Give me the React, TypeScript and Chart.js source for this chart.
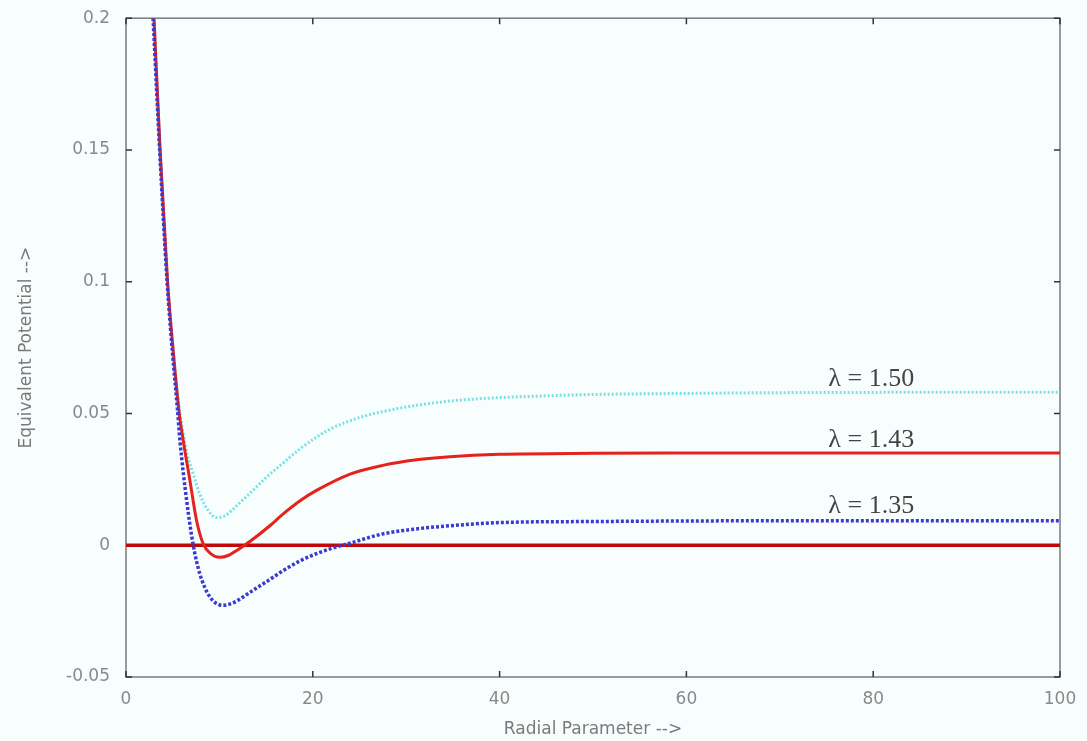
import React, { useEffect, useRef } from "react";
import { Chart, registerables } from "chart.js";
Chart.register(...registerables);

// ---- data ----
const cyanX = [3.0, 3.65, 4.45, 5.05, 5.6, 6.0, 6.6, 7.2, 7.9, 8.8, 9.7, 10.6, 11.5, 12.5, 13.3, 14.35, 15.4, 16.5, 18.6, 20.4, 21.8, 25.05, 29.3, 33.6, 37.9, 45, 50, 60, 70, 80, 90, 100];
const cyanY = [0.2, 0.15, 0.1, 0.074, 0.055, 0.045, 0.034, 0.027, 0.0194, 0.0132, 0.0105, 0.0112, 0.0138, 0.0172, 0.0198, 0.0235, 0.027, 0.0302, 0.0365, 0.041, 0.044, 0.0485, 0.052, 0.0543, 0.0556, 0.0567, 0.0572, 0.0576, 0.0579, 0.058, 0.0581, 0.0581];

const redX = [3.0, 3.65, 4.45, 5.1, 5.7, 6.14, 6.85, 7.56, 8.27, 9.0, 10.06, 11.0, 11.85, 12.7, 13.3, 15.4, 16.8, 18.6, 20.4, 24.0, 27.5, 31.1, 34.7, 40, 50, 60, 70, 80, 90, 100];
const redY = [0.2, 0.15, 0.1, 0.072, 0.05, 0.0395, 0.0244, 0.0093, 0.0005, -0.003, -0.0046, -0.0038, -0.002, 0, 0.0015, 0.0074, 0.0118, 0.0168, 0.0208, 0.027, 0.0303, 0.0324, 0.0336, 0.0345, 0.0349, 0.035, 0.035, 0.035, 0.035, 0.035];

const blueX = [2.9, 3.6, 4.4, 5.0, 5.5, 5.78, 6.5, 7.2, 7.9, 9.0, 10.4, 11.5, 12.5, 13.3, 15.4, 16.8, 18.6, 20.4, 22.0, 24.0, 27.5, 31.1, 34.7, 40, 50, 60, 70, 80, 90, 100];
const blueY = [0.2, 0.15, 0.1, 0.072, 0.052, 0.0395, 0.0168, 0, -0.0108, -0.0197, -0.0228, -0.0218, -0.0197, -0.0178, -0.013, -0.0097, -0.006, -0.0032, -0.0012, 0.0008, 0.0043, 0.0062, 0.0074, 0.0086, 0.009, 0.0092, 0.0093, 0.0093, 0.0093, 0.0093];

const zeroX = [0, 100];
const zeroY = [0, 0];

const seriesLabels = ["λ = 1.50", "λ = 1.43", "λ = 1.35"];
const xTicks = [0, 20, 40, 60, 80, 100];
const yTicks = [-0.05, 0, 0.05, 0.1, 0.15, 0.2];
const yTickLabels = ["-0.05", "0", "0.05", "0.1", "0.15", "0.2"];
const xTitle = "Radial Parameter -->";
const yTitle = "Equivalent Potential -->";

const pts = (xs: number[], ys: number[]) => xs.map((x, i) => ({ x, y: ys[i] }));

// annotation anchors in data coordinates (x, baseline y)
const labelAnchors = [
  { x: 75.2, y: 0.0603 },
  { x: 75.2, y: 0.0372 },
  { x: 75.2, y: 0.0122 },
];

const framePlugin = {
  id: "frame",
  beforeDatasetsDraw(chart: any) {
    const { ctx, chartArea: a, scales } = chart;
    ctx.save();
    ctx.strokeStyle = "#7a7a7a";
    ctx.lineWidth = 1.5;
    ctx.strokeRect(a.left, a.top, a.right - a.left, a.bottom - a.top);
    ctx.strokeStyle = "#333";
    ctx.lineWidth = 1.5;
    const tl = 6;
    yTicks.forEach((v) => {
      const y = scales.y.getPixelForValue(v);
      ctx.beginPath();
      ctx.moveTo(a.left, y);
      ctx.lineTo(a.left + tl, y);
      ctx.moveTo(a.right, y);
      ctx.lineTo(a.right - tl, y);
      ctx.stroke();
    });
    xTicks.forEach((v) => {
      const x = scales.x.getPixelForValue(v);
      ctx.beginPath();
      ctx.moveTo(x, a.bottom);
      ctx.lineTo(x, a.bottom - tl);
      ctx.moveTo(x, a.top);
      ctx.lineTo(x, a.top + tl);
      ctx.stroke();
    });
    ctx.restore();
  },
  afterDatasetsDraw(chart: any) {
    const { ctx, scales } = chart;
    ctx.save();
    ctx.font = "26px 'Liberation Serif', 'DejaVu Serif', serif";
    ctx.fillStyle = "#444";
    ctx.textAlign = "left";
    ctx.textBaseline = "alphabetic";
    seriesLabels.forEach((t, i) => {
      const p = labelAnchors[i];
      ctx.fillText(t, scales.x.getPixelForValue(p.x), scales.y.getPixelForValue(p.y));
    });
    ctx.restore();
  },
};

export default function App() {
  const ref = useRef<HTMLCanvasElement | null>(null);
  useEffect(() => {
    document.body.style.margin = "0";
    const canvas = ref.current!;
    const tickFont = { family: "'DejaVu Sans', sans-serif", size: 17 };
    const titleFont = { family: "'DejaVu Sans', sans-serif", size: 17 };
    const chart = new Chart(canvas, {
      type: "line",
      data: {
        datasets: [
          {
            label: seriesLabels[2],
            data: pts(blueX, blueY),
            borderColor: "#3a3ad0",
            borderWidth: 3.5,
            borderDash: [3, 2],
            pointRadius: 0,
            cubicInterpolationMode: "monotone",
            fill: false,
            order: 1,
          },
          {
            label: seriesLabels[1],
            data: pts(redX, redY),
            borderColor: "#e5221c",
            borderWidth: 3,
            pointRadius: 0,
            cubicInterpolationMode: "monotone",
            fill: false,
            order: 2,
          },
          {
            label: "zero",
            data: pts(zeroX, zeroY),
            borderColor: "#c00808",
            borderWidth: 3.5,
            pointRadius: 0,
            fill: false,
            order: 3,
          },
          {
            label: seriesLabels[0],
            data: pts(cyanX, cyanY),
            borderColor: "#78e2e2",
            borderWidth: 3,
            borderDash: [2, 2],
            pointRadius: 0,
            cubicInterpolationMode: "monotone",
            fill: false,
            order: 4,
          },
        ],
      },
      options: {
        responsive: false,
        maintainAspectRatio: false,
        animation: false,
        devicePixelRatio: 1,
        layout: { padding: { top: 3, right: 27, left: 0, bottom: 0 } },
        plugins: { legend: { display: false }, tooltip: { enabled: false } },
        scales: {
          x: {
            type: "linear",
            min: 0,
            max: 100,
            afterBuildTicks: (s: any) => {
              s.ticks = xTicks.map((v) => ({ value: v }));
            },
            afterFit: (s: any) => {
              s.height = 64;
            },
            grid: { display: false },
            border: { display: false },
            ticks: { color: "#8a8a8a", font: tickFont, padding: 4, maxRotation: 0 },
            title: { display: true, text: xTitle, color: "#7a7a7a", font: titleFont, padding: { top: 0, bottom: 1 } },
          },
          y: {
            type: "linear",
            min: -0.05,
            max: 0.2,
            afterBuildTicks: (s: any) => {
              s.ticks = yTicks.map((v) => ({ value: v }));
            },
            afterFit: (s: any) => {
              s.width = 126;
            },
            grid: { display: false },
            border: { display: false },
            ticks: {
              color: "#8a8a8a",
              font: tickFont,
              padding: 8,
              callback: (v: any) => {
                const i = yTicks.findIndex((t) => Math.abs(t - Number(v)) < 1e-9);
                return i >= 0 ? yTickLabels[i] : "";
              },
            },
            title: { display: true, text: yTitle, color: "#7a7a7a", font: titleFont, padding: { top: 16, bottom: 0 } },
          },
        },
      },
      plugins: [framePlugin],
    } as any);
    return () => chart.destroy();
  }, []);
  return (
    <div style={{ width: 1087, height: 741, background: "#f8fefe" }}>
      <canvas ref={ref} width={1087} height={741} style={{ display: "block" }} />
    </div>
  );
}
